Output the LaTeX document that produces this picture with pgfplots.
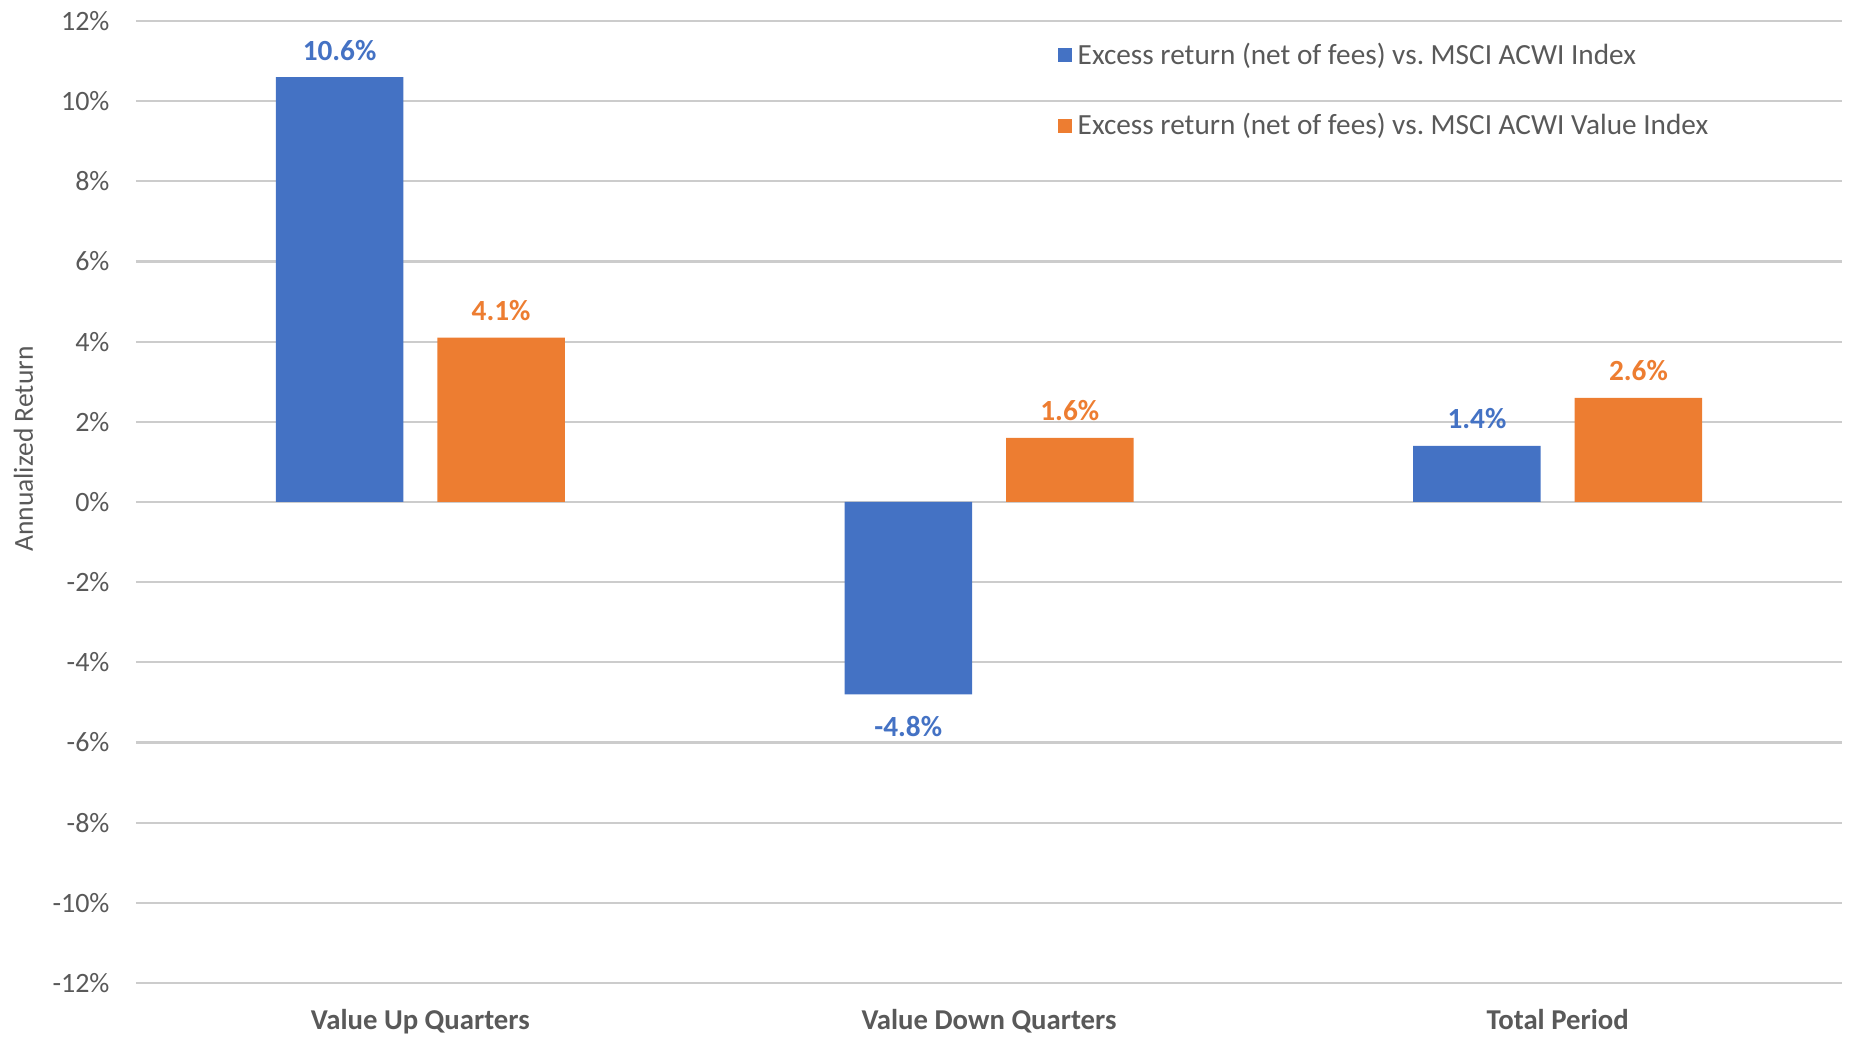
\documentclass[border=0pt]{standalone}
\usepackage{fontspec}
\setmainfont{Carlito}
\usepackage{pgfplots}
\pgfplotsset{compat=1.18}
\definecolor{xblue}{HTML}{4472C4}
\definecolor{xorange}{HTML}{ED7D31}
\definecolor{txtgray}{HTML}{595959}
\definecolor{gridgray}{HTML}{CCCCCC}

\begin{document}
\begin{tikzpicture}
\useasboundingbox (-54.4pt,-21.6pt) rectangle (686pt,393.2pt);
\begin{axis}[
    at={(0,0)}, anchor=south west,
    scale only axis,
    width=682.4pt, height=384.8pt,
    ybar, bar width=51pt,
    xmin=-0.5, xmax=2.5,
    ymin=-12, ymax=12,
    xtick={0,1,2},
    xticklabels={Value Up Quarters, Value Down Quarters, Total Period},
    ytick={-12,-10,...,12},
    yticklabel={\pgfmathprintnumber{\tick}\%},
    /pgf/number format/assume math mode=true,
    axis line style={draw=none},
    major tick length=0pt,
    ymajorgrids, grid style={gridgray, line width=0.9pt},
    x tick label style={font=\fontsize{11.5}{13}\selectfont\bfseries, text=txtgray, anchor=base, yshift=-18.6pt},
    y tick label style={font=\fontsize{11.2}{13}\selectfont, text=txtgray, anchor=east, inner sep=0pt, xshift=-10.4pt},
    ylabel={Annualized Return},
    ylabel style={font=\fontsize{11}{13}\selectfont, text=txtgray, at={(axis description cs:-0.066,0.555)}, anchor=center},
    nodes near coords={\pgfmathprintnumber[fixed, fixed zerofill, precision=1]{\pgfplotspointmeta}\%},
    nodes near coords style={font=\fontsize{11.7}{13}\selectfont\bfseries, inner sep=6.5pt, text height=10pt},
    legend style={draw=none, fill=none, at={(axis description cs:0.54,0.984)}, anchor=north west,
        font=\fontsize{11.7}{13}\selectfont, text=txtgray, row sep=13.2pt, inner sep=0pt,
        nodes={inner sep=2.4pt}},
    legend cell align=left,
    legend image code/.code={\fill[#1] (0pt,-2.8pt) rectangle (5.6pt,2.8pt);},
]
\addplot[fill=xblue, draw=none, bar shift=-32.3pt,
    every node near coord/.append style={text=xblue}]
    coordinates {(0,10.6) (1,-4.8) (2,1.4)};
\addplot[fill=xorange, draw=none, bar shift=32.3pt,
    every node near coord/.append style={text=xorange}]
    coordinates {(0,4.1) (1,1.6) (2,2.6)};
\legend{Excess return (net of fees) vs.\ MSCI ACWI Index,
        Excess return (net of fees) vs.\ MSCI ACWI Value Index}
\end{axis}
\end{tikzpicture}
\end{document}
